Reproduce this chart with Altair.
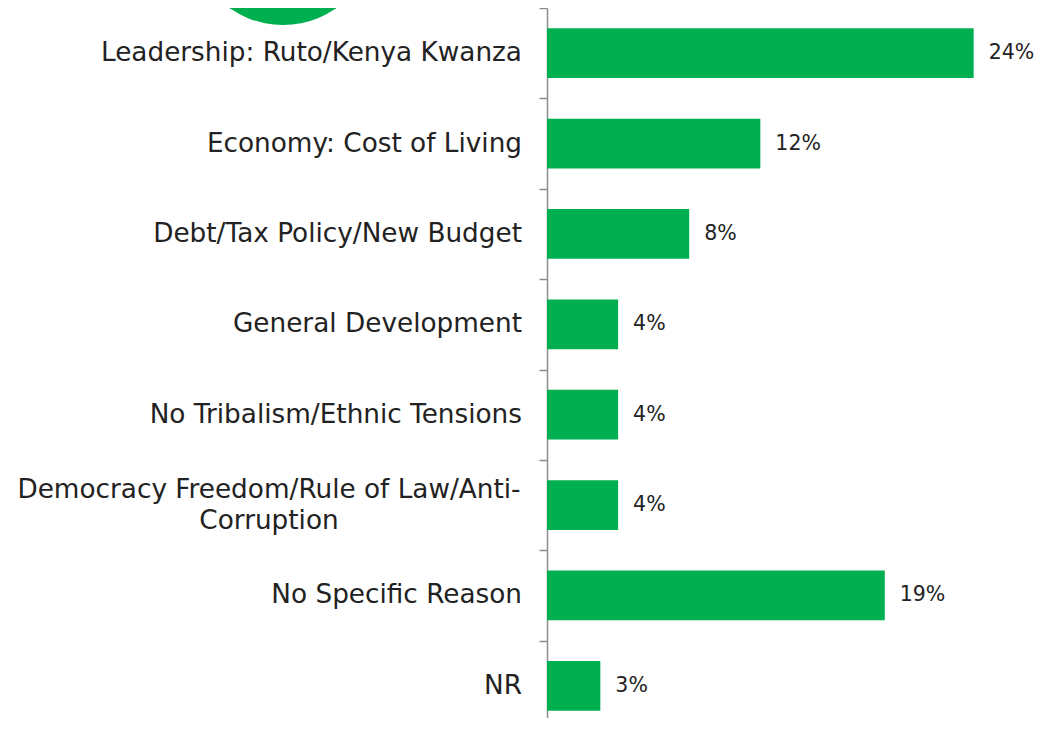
import altair as alt
import pandas as pd

categories = [
    "Leadership: Ruto/Kenya Kwanza",
    "Economy: Cost of Living",
    "Debt/Tax Policy/New Budget",
    "General Development",
    "No Tribalism/Ethnic Tensions",
    "Democracy Freedom/Rule of Law/Anti-Corruption",
    "No Specific Reason",
    "NR",
]
display_labels = [
    "Leadership: Ruto/Kenya Kwanza",
    "Economy: Cost of Living",
    "Debt/Tax Policy/New Budget",
    "General Development",
    "No Tribalism/Ethnic Tensions",
    "Democracy Freedom/Rule of Law/Anti-\nCorruption",
    "No Specific Reason",
    "NR",
]
values = [24, 12, 8, 4, 4, 4, 19, 3]

GREEN = "#00B050"
TEXT = "#222222"
FONT = "DejaVu Sans"

df = pd.DataFrame({"category": categories, "label": display_labels, "value": values})

base = alt.Chart(df).transform_calculate(
    lines="split(datum.label, '\\n')",
    pct="datum.value + '%'",
    nlines="length(split(datum.label, '\\n'))",
)

yscale = alt.Scale(paddingInner=0.45, paddingOuter=0.225, range=[0, 723])

y_enc = alt.Y(
    "category:N",
    sort=categories,
    scale=yscale,
    axis=alt.Axis(
        title=None,
        labels=False,
        grid=False,
        bandPosition=0,
        tickOffset=-20.3,
        tickSize=8,
        tickColor="#8C8C8C",
        tickWidth=1.5,
        domainColor="#8C8C8C",
        domainWidth=1.5,
    ),
)
y_plain = alt.Y("category:N", sort=categories, scale=yscale)
x_enc = alt.X("value:Q", scale=alt.Scale(domain=[0, 27]), axis=None)

bars = base.mark_bar(color=GREEN).encode(x=x_enc, y=y_enc)

pct = base.mark_text(
    align="left", baseline="middle", dx=15, fontSize=20.5, font=FONT, color=TEXT
).encode(x=x_enc, y=y_plain, text="pct:N")

labels_single = base.transform_filter("datum.nlines == 1").mark_text(
    align="right", baseline="middle", fontSize=26.3, font=FONT, color=TEXT
).encode(x=alt.value(-25), y=y_plain, text="lines:N")

labels_multi = base.transform_filter("datum.nlines > 1").mark_text(
    align="center", baseline="middle", fontSize=26.3, lineHeight=31, dy=-15.5,
    font=FONT, color=TEXT
).encode(x=alt.value(-278), y=y_plain, text="lines:N")

circle = alt.Chart(pd.DataFrame({"k": [0]})).mark_circle(
    color=GREEN, opacity=1, size=34596
).encode(x=alt.value(-264), y=alt.value(-76))

chart = alt.layer(circle, bars, pct, labels_single, labels_multi).properties(
    width=480,
    height=710,
    autosize=alt.AutoSizeParams(type="none"),
    padding={"left": 539, "top": 0, "right": 8, "bottom": 0},
).configure_view(stroke=None)

chart.save("out.html", embed_options={"renderer": "svg", "actions": False})
